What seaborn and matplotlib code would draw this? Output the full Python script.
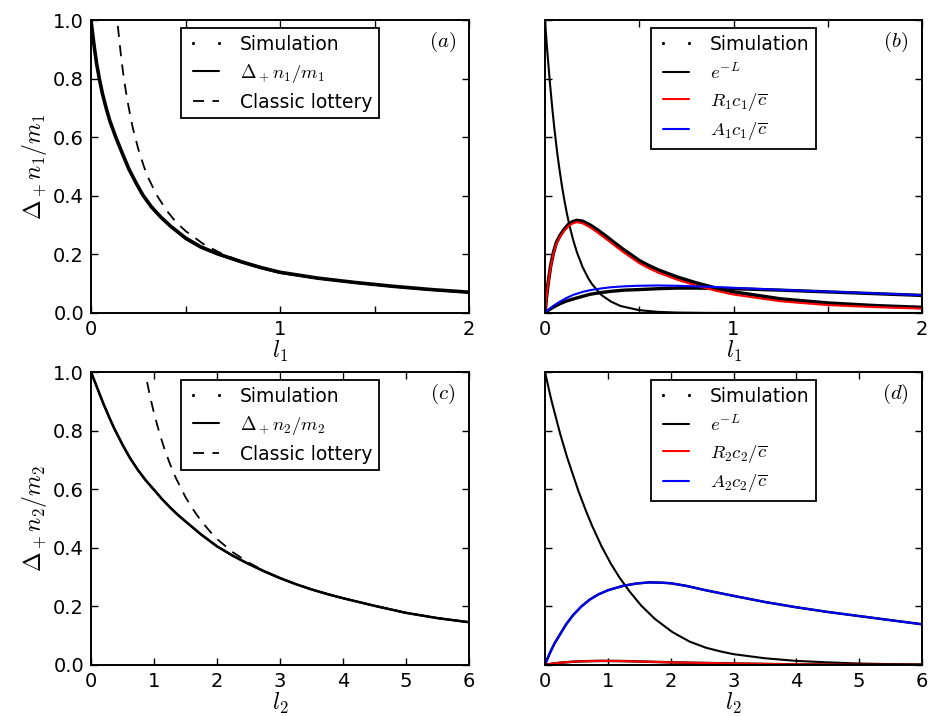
import matplotlib
matplotlib.use("Agg")
import matplotlib.pyplot as plt
import seaborn as sns
from matplotlib.lines import Line2D

# ---------------- data ----------------
# panel (a)
a_x = [0, 0.01, 0.02, 0.03, 0.044, 0.06, 0.08, 0.1, 0.133, 0.165, 0.2, 0.24, 0.275, 0.32,
       0.37, 0.42, 0.5, 0.58, 0.67, 0.8, 0.9, 1.0, 1.2, 1.4, 1.6, 1.8, 2.0]
a_theory = [1.0, 0.945, 0.895, 0.85, 0.8, 0.75, 0.7, 0.655, 0.597, 0.545, 0.49, 0.44, 0.4, 0.36,
            0.325, 0.295, 0.253, 0.223, 0.2, 0.172, 0.153, 0.137, 0.118, 0.103, 0.09, 0.079, 0.07]
a_sim = [1.0, 0.945, 0.895, 0.85, 0.8, 0.75, 0.7, 0.655, 0.597, 0.546, 0.492, 0.442, 0.402, 0.362,
         0.327, 0.297, 0.256, 0.226, 0.202, 0.174, 0.155, 0.139, 0.119, 0.104, 0.091, 0.08, 0.071]
a_cl_x = [0.142, 0.15, 0.16, 0.17, 0.18, 0.19, 0.2, 0.22, 0.25, 0.28, 0.3, 0.35, 0.4, 0.45,
          0.5, 0.6, 0.7, 0.8, 0.9, 1.0, 1.2, 1.4, 1.6, 1.8, 2.0]
a_cl = [0.98, 0.93, 0.87, 0.82, 0.775, 0.735, 0.70, 0.635, 0.56, 0.50, 0.465, 0.40, 0.35, 0.31,
        0.28, 0.233, 0.2, 0.175, 0.155, 0.139, 0.118, 0.103, 0.09, 0.079, 0.07]

# panel (b)
b_exp_x = [0, 0.01, 0.025, 0.04, 0.05, 0.065, 0.075, 0.09, 0.1, 0.115, 0.13, 0.15, 0.17, 0.2,
           0.23, 0.25, 0.3, 0.35, 0.4, 0.5, 0.6, 0.7, 0.85, 1.0, 1.5, 2.0]
b_exp = [1.0, 0.911, 0.793, 0.69, 0.628, 0.546, 0.498, 0.433, 0.395, 0.343, 0.298, 0.248, 0.206,
         0.156, 0.118, 0.098, 0.061, 0.039, 0.024, 0.0096, 0.0038, 0.0015, 0.0004, 0.0001, 0.0, 0.0]
b_r_x = [0, 0.005, 0.01, 0.018, 0.03, 0.044, 0.06, 0.08, 0.1, 0.124, 0.145, 0.168, 0.2, 0.24,
         0.28, 0.33, 0.37, 0.415, 0.46, 0.5, 0.55, 0.6, 0.7, 0.8, 0.9, 1.0, 1.25, 1.5, 1.75, 2.0]
b_r = [0, 0.035, 0.066, 0.105, 0.157, 0.2, 0.235, 0.26, 0.279, 0.296, 0.305, 0.31, 0.306, 0.292,
       0.274, 0.25, 0.23, 0.208, 0.188, 0.17, 0.153, 0.138, 0.114, 0.094, 0.077, 0.063, 0.04,
       0.027, 0.02, 0.015]
b_r_sim = [0, 0.036, 0.068, 0.108, 0.161, 0.204, 0.24, 0.265, 0.284, 0.302, 0.311, 0.316, 0.313,
           0.3, 0.283, 0.259, 0.239, 0.217, 0.197, 0.179, 0.162, 0.147, 0.123, 0.103, 0.086,
           0.072, 0.048, 0.034, 0.025, 0.019]
b_a_x = [0, 0.01, 0.027, 0.05, 0.08, 0.11, 0.15, 0.2, 0.24, 0.3, 0.35, 0.42, 0.5, 0.6, 0.7, 0.8,
         0.9, 1.0, 1.25, 1.5, 1.75, 2.0]
b_a = [0, 0.007, 0.016, 0.027, 0.039, 0.05, 0.062, 0.072, 0.078, 0.084, 0.088, 0.091, 0.093,
       0.094, 0.093, 0.091, 0.089, 0.086, 0.079, 0.073, 0.067, 0.061]
b_a_sim = [0, 0.005, 0.013, 0.022, 0.032, 0.04, 0.048, 0.057, 0.064, 0.07, 0.074, 0.078, 0.08,
           0.083, 0.085, 0.085, 0.084, 0.083, 0.078, 0.072, 0.066, 0.06]

# panel (c)
c_x = [0, 0.1, 0.2, 0.3, 0.37, 0.5, 0.62, 0.75, 0.87, 1.0, 1.12, 1.25, 1.37, 1.5, 1.75, 2.0,
       2.25, 2.5, 2.75, 3.0, 3.25, 3.5, 3.75, 4.0, 4.5, 5.0, 5.5, 6.0]
c_theory = [1.0, 0.945, 0.89, 0.84, 0.807, 0.752, 0.706, 0.664, 0.63, 0.598, 0.568, 0.539, 0.514,
            0.49, 0.445, 0.405, 0.373, 0.345, 0.319, 0.296, 0.276, 0.258, 0.242, 0.228, 0.202,
            0.178, 0.16, 0.146]
c_sim = [1.0, 0.945, 0.89, 0.84, 0.807, 0.752, 0.706, 0.664, 0.63, 0.598, 0.568, 0.539, 0.514,
         0.49, 0.445, 0.405, 0.373, 0.345, 0.32, 0.297, 0.276, 0.258, 0.242, 0.228, 0.202,
         0.178, 0.16, 0.146]
c_cl_x = [0.89, 0.93, 0.97, 1.0, 1.05, 1.1, 1.17, 1.25, 1.35, 1.5, 1.62, 1.75, 1.9, 2.0, 2.25,
          2.5, 2.75, 3.0, 3.5, 4.0, 4.5, 5.0, 5.5, 6.0]
c_cl = [0.966, 0.925, 0.887, 0.86, 0.82, 0.782, 0.735, 0.688, 0.637, 0.573, 0.531, 0.491, 0.453,
        0.43, 0.385, 0.35, 0.321, 0.296, 0.258, 0.228, 0.202, 0.178, 0.16, 0.146]

# panel (d)
d_exp_x = [0, 0.1, 0.24, 0.35, 0.53, 0.65, 0.75, 0.9, 1.05, 1.19, 1.35, 1.53, 1.75, 2.03, 2.3,
           2.56, 2.8, 3.0, 3.5, 4.0, 4.5, 5.0, 5.5, 6.0]
d_exp = [1.0, 0.905, 0.79, 0.71, 0.595, 0.527, 0.475, 0.405, 0.345, 0.297, 0.25, 0.203, 0.157,
         0.112, 0.08, 0.059, 0.046, 0.037, 0.023, 0.014, 0.009, 0.005, 0.003, 0.002]
d_a_x = [0, 0.04, 0.08, 0.15, 0.24, 0.34, 0.45, 0.58, 0.71, 0.85, 1.0, 1.24, 1.45, 1.66, 1.85,
         2.0, 2.25, 2.56, 3.0, 3.5, 4.0, 4.5, 5.0, 5.5, 6.0]
d_a = [0, 0.022, 0.042, 0.073, 0.105, 0.14, 0.171, 0.2, 0.223, 0.241, 0.255, 0.27, 0.278,
       0.282, 0.281, 0.279, 0.27, 0.255, 0.236, 0.215, 0.197, 0.181, 0.167, 0.153, 0.139]
d_r_x = [0, 0.1, 0.25, 0.5, 0.75, 0.9, 1.2, 1.5, 2.0, 2.5, 3.0, 4.0, 5.0, 6.0]
d_r = [0, 0.004, 0.008, 0.012, 0.0135, 0.014, 0.0135, 0.012, 0.009, 0.007, 0.005, 0.002, 0.001,
       0.0005]

top_xticks = [0, 0.5, 1, 1.5, 2]
top_xticklabels = ["0", "", "1", "", "2"]
bot_xticks = [0, 1, 2, 3, 4, 5, 6]
bot_xticklabels = ["0", "1", "2", "3", "4", "5", "6"]
yticks = [0, 0.2, 0.4, 0.6, 0.8, 1.0]
yticklabels = ["0.0", "0.2", "0.4", "0.6", "0.8", "1.0"]

# ---------------- style ----------------
sns.set_theme(style="white")
plt.rcParams.update({
    "font.family": ["DejaVu Sans"],
    "mathtext.fontset": "cm",
    "xtick.direction": "in", "ytick.direction": "in",
    "xtick.top": True, "ytick.right": True,
    "xtick.bottom": True, "ytick.left": True,
    "xtick.major.size": 5, "ytick.major.size": 5,
    "xtick.major.width": 1.0, "ytick.major.width": 1.0,
    "xtick.major.pad": 5, "ytick.major.pad": 5,
    "axes.edgecolor": "black", "axes.linewidth": 1.4,
    "xtick.color": "black", "ytick.color": "black",
    "axes.labelcolor": "black", "text.color": "black",
    "xtick.labelsize": 14, "ytick.labelsize": 14,
    "lines.scale_dashes": False,
})

fig = plt.figure(figsize=(9.3, 7.16), dpi=100)
W, H = 930, 716
def pos(l, r, t, b):
    return [l / W, 1 - b / H, (r - l) / W, (b - t) / H]
ax_a = fig.add_axes(pos(91, 469, 20, 313))
ax_b = fig.add_axes(pos(545, 922, 20, 313))
ax_c = fig.add_axes(pos(91, 469, 372, 665))
ax_d = fig.add_axes(pos(545, 922, 372, 665))

def line(ax, x, y, **kw):
    sns.lineplot(x=x, y=y, ax=ax, estimator=None, sort=False, legend=False, **kw)

LW = 1.5
DASH = (0, (8, 6))

# (a)
line(ax_a, a_x, a_sim, color="black", linewidth=2.6)
line(ax_a, a_x, a_theory, color="black", linewidth=LW)
line(ax_a, a_cl_x, a_cl, color="black", linewidth=1.3, linestyle=DASH)
# (b)
line(ax_b, b_exp_x, b_exp, color="black", linewidth=LW)
line(ax_b, b_r_x, b_r_sim, color="black", linewidth=2.6)
line(ax_b, b_a_x, b_a_sim, color="black", linewidth=2.4)
line(ax_b, b_r_x, b_r, color="red", linewidth=LW)
line(ax_b, b_a_x, b_a, color="blue", linewidth=LW)
# (c)
line(ax_c, c_x, c_sim, color="black", linewidth=1.8)
line(ax_c, c_x, c_theory, color="black", linewidth=LW)
line(ax_c, c_cl_x, c_cl, color="black", linewidth=1.3, linestyle=DASH)
# (d)
line(ax_d, d_exp_x, d_exp, color="black", linewidth=LW)
line(ax_d, d_a_x, d_a, color="black", linewidth=1.8)
line(ax_d, d_r_x, d_r, color="black", linewidth=1.8)
line(ax_d, d_r_x, d_r, color="red", linewidth=LW)
line(ax_d, d_a_x, d_a, color="blue", linewidth=LW)

sim_h = Line2D([], [], linestyle="none", marker=".", markersize=2.5, color="black")
def legend(ax, handles, labels):
    leg = ax.legend(handles, labels, loc="upper center", fontsize=13.5, frameon=True,
                    fancybox=False, edgecolor="black", framealpha=1, numpoints=2,
                    handlelength=2.0, labelspacing=0.42, borderaxespad=0.45,
                    borderpad=0.35, handletextpad=0.8)
    leg.get_frame().set_linewidth(1.3)

legend(ax_a, [sim_h, Line2D([], [], color="black", lw=LW),
              Line2D([], [], color="black", lw=1.3, linestyle=DASH)],
       ["Simulation", r"$\Delta_+n_1/m_1$", "Classic lottery"])
legend(ax_c, [sim_h, Line2D([], [], color="black", lw=LW),
              Line2D([], [], color="black", lw=1.3, linestyle=DASH)],
       ["Simulation", r"$\Delta_+n_2/m_2$", "Classic lottery"])
legend(ax_b, [sim_h, Line2D([], [], color="black", lw=LW),
              Line2D([], [], color="red", lw=LW), Line2D([], [], color="blue", lw=LW)],
       ["Simulation", r"$e^{-L}$", r"$R_1c_1/\overline{c}$", r"$A_1c_1/\overline{c}$"])
legend(ax_d, [sim_h, Line2D([], [], color="black", lw=LW),
              Line2D([], [], color="red", lw=LW), Line2D([], [], color="blue", lw=LW)],
       ["Simulation", r"$e^{-L}$", r"$R_2c_2/\overline{c}$", r"$A_2c_2/\overline{c}$"])

for ax, lab in [(ax_a, "a"), (ax_b, "b"), (ax_c, "c"), (ax_d, "d")]:
    ax.set_ylim(0, 1)
    ax.set_yticks(yticks)
    ax.text(0.93, 0.925, rf"$({lab})$", transform=ax.transAxes, ha="center",
            va="center", fontsize=15)
for ax in (ax_a, ax_b):
    ax.set_xlim(0, 2)
    ax.set_xticks(top_xticks)
    ax.set_xticklabels(top_xticklabels)
    ax.set_xlabel(r"$l_1$", fontsize=17, labelpad=0)
for ax in (ax_c, ax_d):
    ax.set_xlim(0, 6)
    ax.set_xticks(bot_xticks)
    ax.set_xticklabels(bot_xticklabels)
    ax.set_xlabel(r"$l_2$", fontsize=17, labelpad=0)
for ax in (ax_a, ax_c):
    ax.set_yticklabels(yticklabels)
for ax in (ax_b, ax_d):
    ax.set_yticklabels([])
ax_a.set_ylabel(r"$\Delta_+n_1/m_1$", fontsize=17, labelpad=3)
ax_c.set_ylabel(r"$\Delta_+n_2/m_2$", fontsize=17, labelpad=3)

fig.savefig("out.png", dpi=100)
